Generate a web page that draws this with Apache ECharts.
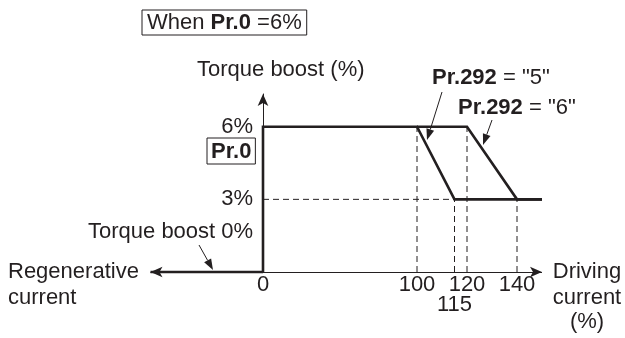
<!DOCTYPE html>
<html>
<head>
<meta charset="utf-8">
<script src="https://cdn.jsdelivr.net/npm/echarts@6/dist/echarts.min.js"></script>
<style>
html,body{margin:0;padding:0;background:#fff;}
#chart{width:625px;height:338px;}
</style>
</head>
<body>
<div id="chart"></div>
<script>
// ---- data ----
const xTickValues = [0, 100, 115, 120, 140];
const yTickValues = [3, 6];
const xAxisSpan = [-45, 150];
const regenX = [-45, 0];
const regenY = [0, 0];
const pr5X = [0, 0, 100, 115, 150];
const pr5Y = [0, 6, 6, 3, 3];
const pr6X = [100, 120, 140, 150];
const pr6Y = [6, 6, 3, 3];
const dropX = [100, 115, 120, 140];
const dropY = [6, 3, 6, 3];
const guideX = [0, 115];
const guideY = [3, 3];

const INK = '#231f20';
const FONT = '"Liberation Sans", Arial, sans-serif';
const FS = 22;

const zip = (xs, ys) => xs.map((x, i) => [x, ys[i]]);

const series = [];
// x axis drawn as a markLine (continuous across the axis break)
series.push({
  type: 'line', data: [], symbol: 'none', silent: true, z: 2, clip: false,
  markLine: {
    silent: true, animation: false,
    symbol: ['arrow', 'arrow'], symbolSize: [8, 12],
    label: { show: false },
    lineStyle: { color: INK, width: 1, type: 'solid' },
    emphasis: { disabled: true },
    data: [[{ coord: [xAxisSpan[0], 0] }, { coord: [xAxisSpan[1], 0] }]]
  }
});
dropX.forEach((x, i) => {
  series.push({
    type: 'line', data: [[x, 0], [x, dropY[i]]], symbol: 'none', silent: true, z: 1,
    lineStyle: { color: INK, width: 1, type: [6, 4] }
  });
});
series.push({
  type: 'line', data: zip(guideX, guideY), symbol: 'none', silent: true, z: 1,
  lineStyle: { color: INK, width: 1, type: [6, 4] }
});
[[regenX, regenY], [pr5X, pr5Y], [pr6X, pr6Y]].forEach(([xs, ys]) => {
  series.push({
    type: 'line', data: zip(xs, ys), symbol: 'none', silent: true, z: 3, clip: false,
    lineStyle: { color: INK, width: 2.6, join: 'miter' }
  });
});

function arrow(x1, y1, x2, y2) {
  const a = Math.atan2(y2 - y1, x2 - x1);
  const L = 11, W = 4;
  const bx = x2 - L * Math.cos(a), by = y2 - L * Math.sin(a);
  const px = -Math.sin(a) * W, py = Math.cos(a) * W;
  return [
    { type: 'line', shape: { x1, y1, x2: bx, y2: by }, style: { stroke: INK, lineWidth: 1 }, silent: true },
    { type: 'polygon', shape: { points: [[x2, y2], [bx + px, by + py], [bx - px, by - py]] }, style: { fill: INK }, silent: true }
  ];
}

function txt(text, x, y, extraStyle) {
  return {
    type: 'text', x, y, silent: true,
    style: Object.assign({ text, fill: INK, fontSize: FS, fontFamily: FONT, verticalAlign: 'middle' }, extraStyle || {})
  };
}

const bold = { fontWeight: 'bold', fontSize: FS, fontFamily: FONT, fill: INK };

const graphic = [
  { type: 'text', x: 142, y: 10, silent: true,
    style: { text: 'When {b|Pr.0} =6%', rich: { b: bold }, fill: INK, fontSize: FS, fontFamily: FONT,
      borderColor: INK, borderWidth: 1, padding: [2, 5, 1, 5], lineHeight: 22 } },
  txt('Torque boost (%)', 197, 70),
  txt('{b|Pr.292} = "5"', 432, 78, { rich: { b: bold } }),
  txt('{b|Pr.292} = "6"', 458, 108, { rich: { b: bold } }),
  { type: 'text', x: 207, y: 138, silent: true,
    style: { text: 'Pr.0', fontWeight: 'bold', fill: INK, fontSize: FS, fontFamily: FONT,
      borderColor: INK, borderWidth: 1, padding: [3, 4, 2, 4], lineHeight: 21 } },
  txt('Torque boost 0%', 88, 232),
  txt('Regenerative', 8, 272),
  txt('current', 8, 298),
  txt('Driving', 587, 272, { align: 'center' }),
  txt('current', 587, 298, { align: 'center' }),
  txt('(%)', 587, 322, { align: 'center' })
].concat(arrow(442, 92, 427, 140), arrow(492, 120, 483, 145), arrow(199, 245, 213, 270));

const GRID_LEFT = 150.5;
const chart = echarts.init(document.getElementById('chart'), null, { renderer: 'canvas' });
chart.setOption({
  animation: false,
  backgroundColor: '#fff',
  grid: { left: GRID_LEFT, top: 94, width: 391.5, height: 178, containLabel: false },
  xAxis: {
    type: 'value', min: xAxisSpan[0], max: xAxisSpan[1],
    breaks: [{ start: 20, end: 80, gap: 21.6 }],
    breakArea: { show: false },
    splitLine: { show: false },
    axisTick: { show: false },
    axisLine: { show: false },
    axisLabel: {
      customValues: xTickValues, margin: 3, color: INK, fontSize: FS, fontFamily: FONT, lineHeight: 20,
      formatter: v => v === 115 ? '\n115' : String(v)
    }
  },
  yAxis: {
    type: 'value', min: 0, max: 7.35,
    offset: -(263 - GRID_LEFT),
    splitLine: { show: false },
    axisTick: { show: false },
    axisLine: { show: true, onZero: false, symbol: ['none', 'arrow'], symbolSize: [8, 12],
      lineStyle: { color: INK, width: 1 } },
    axisLabel: {
      customValues: yTickValues, margin: 10, color: INK, fontSize: FS, fontFamily: FONT,
      formatter: v => v + '%'
    }
  },
  graphic: graphic,
  series: series
});
</script>
</body>
</html>
